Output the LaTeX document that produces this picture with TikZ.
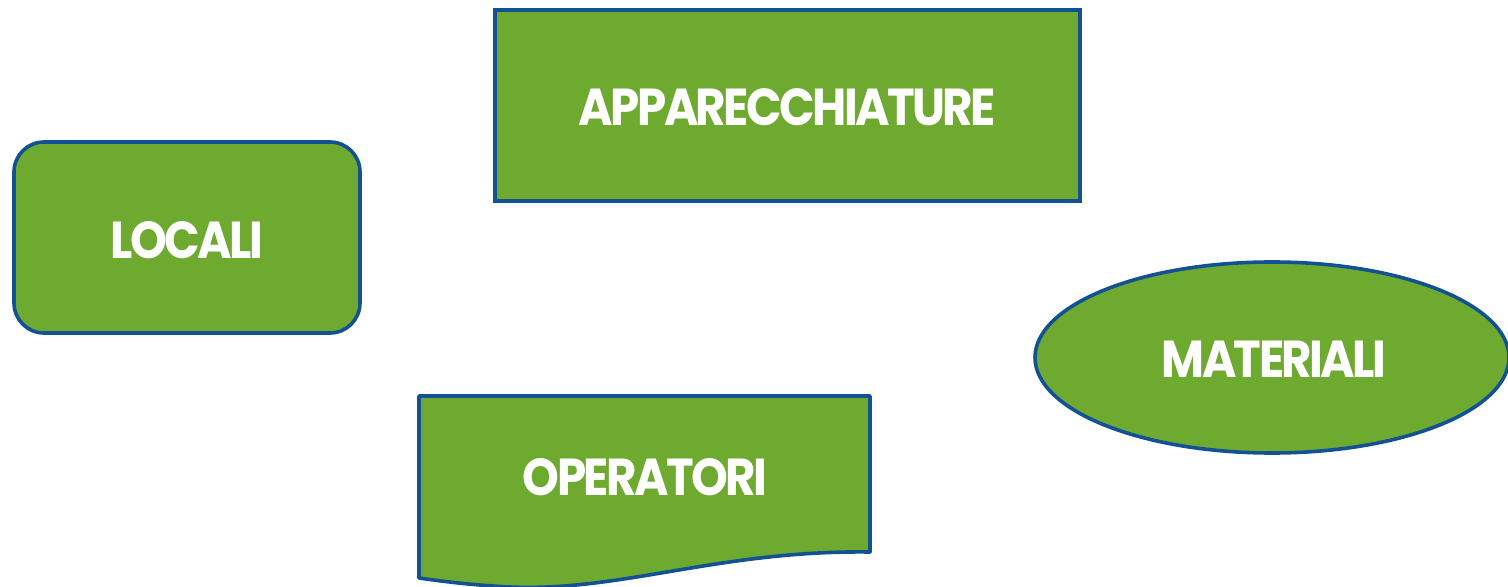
\documentclass[tikz,border=0pt]{standalone}
\usepackage{fontspec}
\setmainfont{Poppins}[UprightFont=* Bold,FakeStretch=0.9,LetterSpace=-5]
\usetikzlibrary{shapes.geometric}
\definecolor{boxgreen}{RGB}{111,170,48}
\definecolor{boxblue}{RGB}{18,82,148}
\begin{document}
\begin{tikzpicture}[x=0.5pt,y=-0.5pt,
  shapebox/.style={draw=boxblue,fill=boxgreen,line width=1.8pt,inner sep=0pt},
  label/.style={text=white,font=\fontsize{26}{30}\selectfont,inner sep=0pt}]
\useasboundingbox (0,0) rectangle (1508,587);
% equipment box
\node[shapebox,rectangle,minimum width=292.5pt,minimum height=95.5pt] (app) at (787.5,105.5) {};
\node[label] (appt) at (787.5,107) {APPARECCHIATURE};
% premises box
\node[shapebox,rectangle,rounded corners=15pt,minimum width=173pt,minimum height=95.5pt] (loc) at (187,237.5) {};
\node[label] (loct) at (187,240) {LOCALI};
% materials ellipse
\node[shapebox,ellipse,minimum width=237pt,minimum height=95.5pt] (mat) at (1272,357.5) {};
\node[label] (matt) at (1274,359) {MATERIALI};
% staff: document shape with wavy bottom
\draw[draw=boxblue,fill=boxgreen,line width=1.8pt,line join=round]
  (419,396) -- (870,396) -- (870,552)
  .. controls (720,550) and (620,592) .. (510,587)
  .. controls (470,585) and (440,581) .. (419,578) -- cycle;
\node[label] (opt) at (645,477) {OPERATORI};
\end{tikzpicture}
\end{document}
